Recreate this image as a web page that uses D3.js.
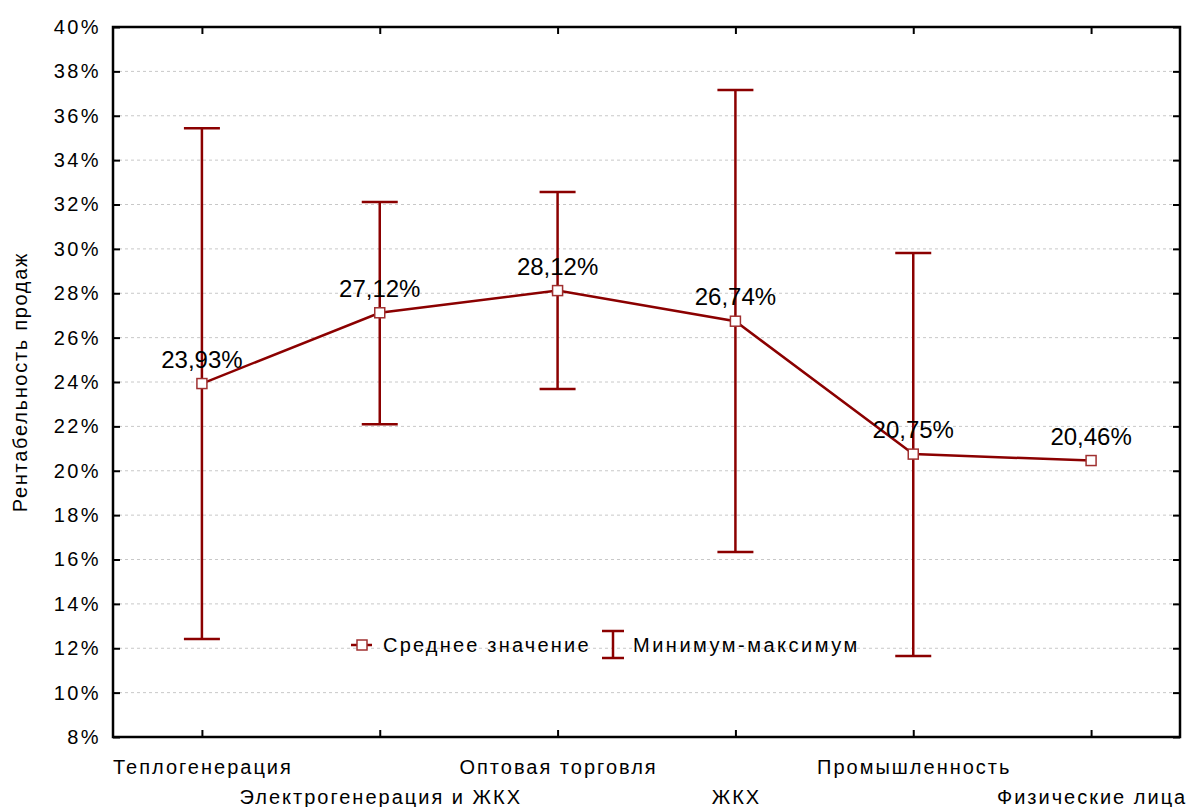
<!DOCTYPE html>
<html>
<head>
<meta charset="utf-8">
<script src="https://cdn.jsdelivr.net/npm/d3@7"></script>
<style>
  body { margin: 0; background: #fff; }
  text { font-family: "Liberation Sans", Arial, sans-serif; fill: #000; }
</style>
</head>
<body>
<div id="chart"></div>
<script>
var categories = ["Теплогенерация", "Электрогенерация и ЖКХ", "Оптовая торговля", "ЖКХ", "Промышленность", "Физические лица"];
var means = [23.93, 27.12, 28.12, 26.74, 20.75, 20.46];
var mins = [12.42, 22.1, 23.68, 16.34, 11.65, null];
var maxs = [35.44, 32.11, 32.56, 37.16, 29.81, null];
var yTicks = [8, 10, 12, 14, 16, 18, 20, 22, 24, 26, 28, 30, 32, 34, 36, 38, 40];

var width = 1189, height = 807;
var margin = { top: 27, right: 9, bottom: 70, left: 113 };
var red = "#8b0000";

var svg = d3.select('#chart')
  .append('svg')
  .attr('width', width)
  .attr('height', height)

var x = d3.scalePoint()
  .domain(categories)
  .range([margin.left, width - margin.right])
  .padding(0.5);

var y = d3.scaleLinear()
  .domain([8, 40])
  .range([height - margin.bottom, margin.top]);

var x0 = margin.left, x1 = width - margin.right;
var y0 = height - margin.bottom, y1 = margin.top;

// grid
svg.append('g')
  .selectAll('line')
  .data(yTicks.slice(1, -1))
  .join('line')
  .attr('x1', x0).attr('x2', x1)
  .attr('y1', d => y(d)).attr('y2', d => y(d))
  .attr('stroke', '#c8c8c8')
  .attr('stroke-dasharray', '3,3')

// axes (ticks inward)
var fmt = d => d + '%';
svg.append('g')
  .attr('transform', 'translate(' + x0 + ',0)')
  .call(d3.axisLeft(y).tickValues(yTicks).tickSize(-7).tickPadding(12).tickFormat(fmt))
  .call(g => g.selectAll('text').style('font-size', '20px').style('letter-spacing', '2.4px'))
  .call(g => g.select('.domain').remove())

svg.append('g')
  .attr('transform', 'translate(' + x1 + ',0)')
  .call(d3.axisRight(y).tickValues(yTicks).tickSize(-7).tickFormat(''))
  .call(g => g.select('.domain').remove())

svg.append('g')
  .attr('transform', 'translate(0,' + y0 + ')')
  .call(d3.axisBottom(x).tickSize(-7).tickFormat(''))
  .call(g => g.select('.domain').remove())

svg.append('g')
  .attr('transform', 'translate(0,' + y1 + ')')
  .call(d3.axisTop(x).tickSize(-7).tickFormat(''))
  .call(g => g.select('.domain').remove())

svg.selectAll('.tick line').attr('stroke', '#000').attr('stroke-width', 2)

svg.append('rect')
  .attr('x', x0).attr('y', y1)
  .attr('width', x1 - x0).attr('height', y0 - y1)
  .attr('fill', 'none')
  .attr('stroke', '#000')
  .attr('stroke-width', 2.5)

// category labels, staggered
svg.append('g')
  .selectAll('text')
  .data(categories)
  .join('text')
  .attr('x', d => x(d) + 1)
  .attr('y', (d, i) => i % 2 == 0 ? y0 + 37 : y0 + 67)
  .attr('text-anchor', 'middle')
  .style('font-size', '20px')
  .style('letter-spacing', '2px')
  .text(d => d)

// y title
svg.append('text')
  .attr('transform', 'translate(27,' + ((y0 + y1) / 2) + ') rotate(-90)')
  .attr('text-anchor', 'middle')
  .style('font-size', '20px')
  .style('letter-spacing', '1.7px')
  .text('Рентабельность продаж')

// error bars
var bars = categories.map((c, i) => ({ c: c, lo: mins[i], hi: maxs[i] })).filter(d => d.lo != null);
var eb = svg.append('g').attr('stroke', red).attr('stroke-width', 2.5);
eb.selectAll('.v').data(bars).join('line')
  .attr('x1', d => x(d.c)).attr('x2', d => x(d.c))
  .attr('y1', d => y(d.lo)).attr('y2', d => y(d.hi))
eb.selectAll('.hi').data(bars).join('line')
  .attr('x1', d => x(d.c) - 18).attr('x2', d => x(d.c) + 18)
  .attr('y1', d => y(d.hi)).attr('y2', d => y(d.hi))
eb.selectAll('.lo').data(bars).join('line')
  .attr('x1', d => x(d.c) - 18).attr('x2', d => x(d.c) + 18)
  .attr('y1', d => y(d.lo)).attr('y2', d => y(d.lo))

// mean line
var pts = categories.map((c, i) => ({ c: c, v: means[i] }));
svg.append('path')
  .datum(pts)
  .attr('fill', 'none')
  .attr('stroke', red)
  .attr('stroke-width', 2.5)
  .attr('d', d3.line().x(d => x(d.c)).y(d => y(d.v)))

svg.append('g')
  .selectAll('rect')
  .data(pts)
  .join('rect')
  .attr('x', d => x(d.c) - 5).attr('y', d => y(d.v) - 5)
  .attr('width', 10).attr('height', 10)
  .attr('fill', '#fff')
  .attr('stroke', '#a03030')
  .attr('stroke-width', 1.5)

svg.append('g')
  .selectAll('text')
  .data(pts)
  .join('text')
  .attr('x', d => x(d.c))
  .attr('y', d => y(d.v) - 16)
  .attr('text-anchor', 'middle')
  .style('font-size', '24px')
  .text(d => d.v.toFixed(2).replace('.', ',') + '%')

// legend
var ly = 645;
var lg = svg.append('g');
lg.append('line').attr('x1', 351).attr('x2', 372).attr('y1', ly).attr('y2', ly)
  .attr('stroke', red).attr('stroke-width', 2.5)
lg.append('rect').attr('x', 357).attr('y', ly - 5).attr('width', 10).attr('height', 10)
  .attr('fill', '#fff').attr('stroke', '#a03030').attr('stroke-width', 1.5)
lg.append('text').attr('x', 383).attr('y', ly + 7).style('font-size', '20px').style('letter-spacing', '2.2px').text('Среднее значение')
var ix = 613;
lg.append('line').attr('x1', ix).attr('x2', ix).attr('y1', ly - 14).attr('y2', ly + 13).attr('stroke', red).attr('stroke-width', 2.5)
lg.append('line').attr('x1', ix - 11).attr('x2', ix + 11).attr('y1', ly - 14).attr('y2', ly - 14).attr('stroke', red).attr('stroke-width', 2.5)
lg.append('line').attr('x1', ix - 11).attr('x2', ix + 11).attr('y1', ly + 13).attr('y2', ly + 13).attr('stroke', red).attr('stroke-width', 2.5)
lg.append('text').attr('x', 633).attr('y', ly + 7).style('font-size', '20px').style('letter-spacing', '2.5px').text('Минимум-максимум')
</script>
</body>
</html>
